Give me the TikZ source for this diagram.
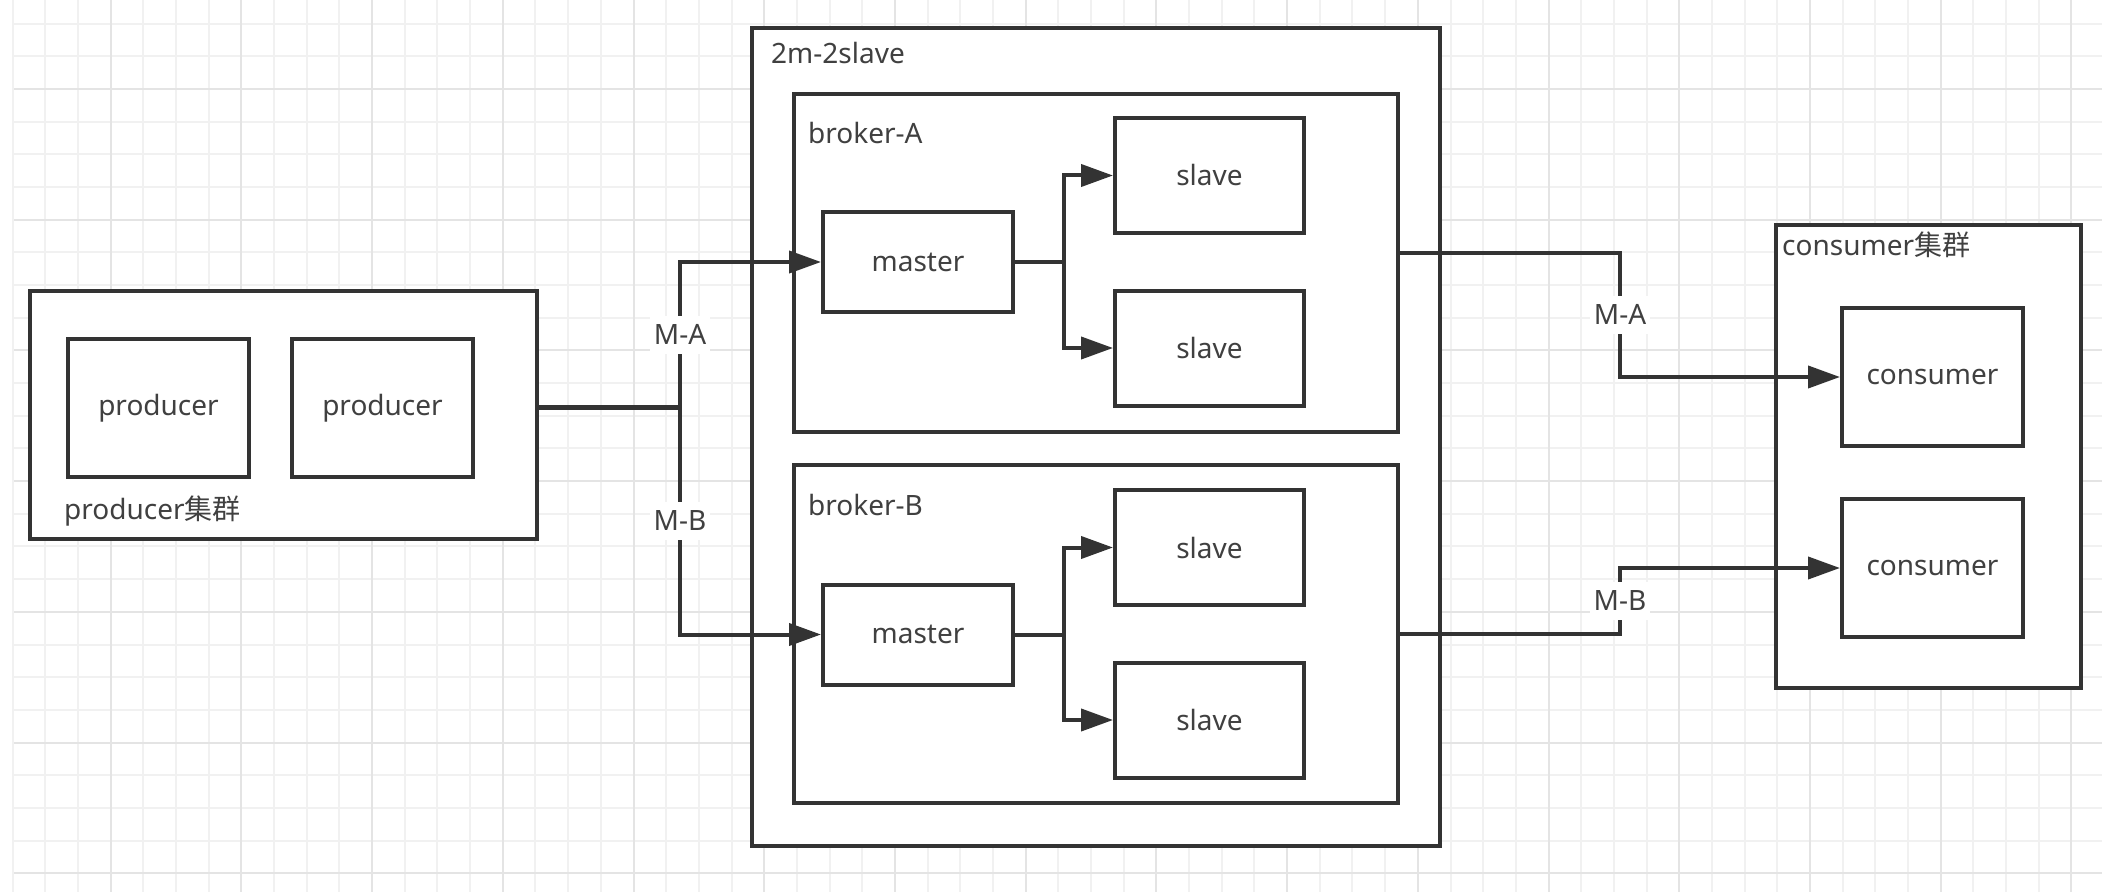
\documentclass[tikz,border=0pt]{standalone}
\usepackage{fontspec}
\setmainfont{Noto Sans}
\newfontfamily\cjk{Noto Sans CJK SC}
\usepackage{tikz}
\usetikzlibrary{arrows.meta, calc}
\definecolor{linegray}{HTML}{333333}
\definecolor{textgray}{HTML}{404040}
\definecolor{gridminor}{HTML}{F1F1F1}
\definecolor{gridmajor}{HTML}{E4E4E4}
\tikzset{
  % boxes
  box/.style={rectangle, draw=linegray, line width=4pt, fill=white, text=textgray, inner sep=0pt, font=\fontsize{28}{34}\selectfont},
  group/.style={box},
  tag/.style={anchor=west, inner sep=0pt, text=textgray, font=\fontsize{28}{34}\selectfont},
  % connectors
  wire/.style={draw=linegray, line width=4pt},
  arrow/.style={wire, -{Triangle[length=32pt, width=22pt]}},
  elabel/.style={fill=white, text=textgray, inner xsep=4pt, inner ysep=0pt, minimum height=38pt, font=\fontsize{28}{34}\selectfont},
}

\begin{document}
\begin{tikzpicture}[x=1pt, y=-1pt]
    \useasboundingbox[fill=white] (0,0) rectangle (2102,896);

    % Background grid
    \foreach \i in {0,...,63}
      \draw[gridminor, line width=2pt] ({12.6+32.68*\i},0) -- ++(0,892);
    \foreach \j in {1,...,27}
      \draw[gridminor, line width=2pt] (14,{-9.1+32.68*\j}) -- (2102,{-9.1+32.68*\j});
    \foreach \i in {3,7,...,63}
      \draw[gridmajor, line width=2pt] ({12.6+32.68*\i},0) -- ++(0,892);
    \foreach \j in {3,7,...,27}
      \draw[gridmajor, line width=2pt] (14,{-9.1+32.68*\j}) -- (2102,{-9.1+32.68*\j});

    % Producer cluster
    \node[group, minimum width=507pt, minimum height=248pt] (prodgrp) at (283,415) {};
    \node[box, minimum width=181pt, minimum height=138pt] (prod1) at (158.5,408) {producer};
    \node[box, minimum width=181pt, minimum height=138pt] (prod2) at (382.5,408) {producer};
    \node[tag] (prodtag) at (64,511) {producer{\cjk 集群}};

    % Broker cluster
    \node[group, minimum width=688pt, minimum height=818pt] (cluster) at (1096,437) {};
    \node[tag] (clustertag) at (771,53) {2m-2slave};

    % broker-A
    \node[group, minimum width=604pt, minimum height=338pt] (brokerA) at (1096,263) {};
    \node[tag] (tagA) at (808,133) {broker-A};
    \node[box, minimum width=190pt, minimum height=100pt] (masterA) at (918,262) {master};
    \node[box, minimum width=189pt, minimum height=115pt] (slaveA1) at (1209.5,175.5) {slave};
    \node[box, minimum width=189pt, minimum height=115pt] (slaveA2) at (1209.5,348) {slave};

    % broker-B
    \node[group, minimum width=604pt, minimum height=338pt] (brokerB) at (1096,634) {};
    \node[tag] (tagB) at (808,505) {broker-B};
    \node[box, minimum width=190pt, minimum height=100pt] (masterB) at (918,634.5) {master};
    \node[box, minimum width=189pt, minimum height=115pt] (slaveB1) at (1209.5,547.5) {slave};
    \node[box, minimum width=189pt, minimum height=115pt] (slaveB2) at (1209.5,720) {slave};

    % Consumer cluster
    \node[group, minimum width=305pt, minimum height=463pt] (consgrp) at (1928.5,456.5) {};
    \node[tag] (constag) at (1782,245) {consumer{\cjk 集群}};
    \node[box, minimum width=181pt, minimum height=138pt] (cons1) at (1932.5,377) {consumer};
    \node[box, minimum width=181pt, minimum height=138pt] (cons2) at (1932.5,568) {consumer};

    % Producers to masters
    \coordinate (fork) at (680,407);
    \draw[wire, line width=5pt] (prodgrp.east |- fork) -- (fork);
    \draw[arrow] (fork) -- node[elabel] {M-A} (fork |- masterA.west) -- (masterA.west);
    \draw[arrow] (fork) -- node[elabel] {M-B} (fork |- masterB.west) -- (masterB.west);

    % Masters to slaves
    \coordinate (splitA) at ($(masterA.east)!0.5!(slaveA1.west |- masterA.east)$);
    \draw[wire] (masterA.east) -- (splitA);
    \draw[arrow] (splitA) |- (slaveA1.west);
    \draw[arrow] (splitA) |- (slaveA2.west);
    \coordinate (splitB) at ($(masterB.east)!0.5!(slaveB1.west |- masterB.east)$);
    \draw[wire] (masterB.east) -- (splitB);
    \draw[arrow] (splitB) |- (slaveB1.west);
    \draw[arrow] (splitB) |- (slaveB2.west);

    % Brokers to consumers
    \coordinate (outA) at ($(brokerA.north east)!0.47!(brokerA.south east)$);
    \coordinate (bendA) at ($(outA)!0.5!(cons1.west)$);
    \draw[arrow] (outA) -| (bendA) node[elabel] {M-A} |- (cons1.west);
    \coordinate (bendB) at ($(brokerB.east)!0.5!(cons2.west)$);
    \draw[arrow] (brokerB.east) -| (bendB) node[elabel] {M-B} |- (cons2.west);
\end{tikzpicture}
\end{document}
